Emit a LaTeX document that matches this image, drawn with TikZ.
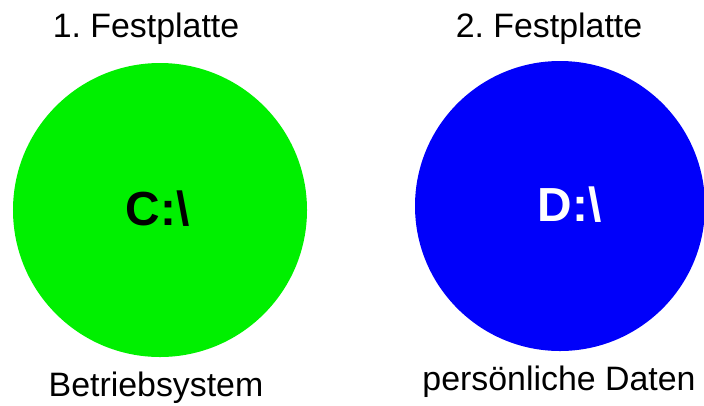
\documentclass[tikz,border=0pt]{standalone}
\usepackage{fontspec}
\setmainfont{Liberation Sans}
\usetikzlibrary{positioning}

\definecolor{diskgreen}{RGB}{0,240,0}
\definecolor{diskblue}{RGB}{0,0,250}

\begin{document}
\frenchspacing
\begin{tikzpicture}[x=1bp, y=-1bp,
  disk/.style = {circle, draw=none, inner sep=0pt},
  label text/.style = {anchor=base, inner sep=0pt,
    font=\fontsize{34}{40}\selectfont},
  drive text/.style = {anchor=base, inner sep=0pt,
    font=\fontsize{48}{54}\selectfont\bfseries},
]
  \useasboundingbox (0,0) rectangle (704,405);
  % disks
  \node[disk, fill=diskgreen, minimum size=294bp] (diskC) at (160,210) {};
  \node[disk, fill=diskblue, minimum size=290bp] (diskD) at (560,206) {};
  % drive letters
  \node[drive text] (letterC) at (157.5,225) {C:\textbackslash};
  \node[drive text, text=white] (letterD) at (569.5,221) {D:\textbackslash};
  % titles
  \node[label text] (titleC) at (146,37) {1. Festplatte};
  \node[label text] (titleD) at (549,37) {2. Festplatte};
  % captions
  \node[label text] (captionC) at (156,396) {Betriebsystem};
  \node[label text] (captionD) at (559,390) {persönliche Daten};
\end{tikzpicture}
\end{document}
